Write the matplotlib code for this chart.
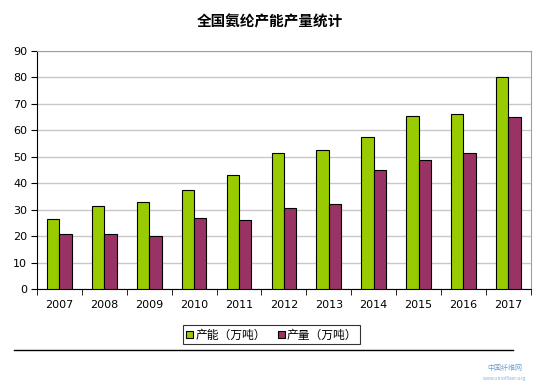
import matplotlib
matplotlib.use("Agg")
import matplotlib.pyplot as plt
import numpy as np

plt.rcParams['font.family'] = ['Noto Sans CJK SC', 'DejaVu Sans']

years = ["2007", "2008", "2009", "2010", "2011", "2012", "2013", "2014", "2015", "2016", "2017"]
capacity = [26.4, 31.3, 33.0, 37.3, 43.0, 51.3, 52.6, 57.6, 65.4, 66.2, 80.1]
output = [20.7, 20.9, 20.2, 26.7, 26.0, 30.8, 32.0, 44.9, 48.9, 51.3, 65.1]
series_names = ["产能（万吨）", "产量（万吨）"]
title = "全国氨纶产能产量统计"

fig = plt.figure(figsize=(5.4, 3.85), dpi=100)
ax = fig.add_axes([0.0685, 0.249, 0.9145, 0.6185])

x = np.arange(len(years))
w = 0.275
b1 = ax.bar(x - w / 2, capacity, w, color="#99CC00", edgecolor="black", linewidth=0.8, label=series_names[0], zorder=3)
b2 = ax.bar(x + w / 2, output, w, color="#993366", edgecolor="black", linewidth=0.8, label=series_names[1], zorder=3)

ax.set_xlim(-0.5, len(years) - 0.5)
ax.set_ylim(0, 90)
ax.set_yticks(np.arange(0, 91, 10))
ax.yaxis.grid(True, color="#c8c8c8", linewidth=1, zorder=0)
ax.set_xticks(x)
ax.set_xticklabels(years, fontsize=8, family="DejaVu Sans")
ax.tick_params(axis="x", length=0, pad=8)
ax.set_xticks(np.arange(-0.5, len(years), 1), minor=True)
ax.tick_params(axis="x", which="minor", length=4, direction="out", color="black")
ax.tick_params(axis="y", labelsize=8, length=4, direction="out", pad=3)
for lab in ax.get_yticklabels():
    lab.set_family("DejaVu Sans")
ax.spines["top"].set_color("#a0a0a0")
ax.spines["right"].set_color("#a0a0a0")
ax.spines["left"].set_color("black")
ax.spines["bottom"].set_color("black")

fig.text(0.5, 0.943, title, ha="center", va="center", fontsize=10.5, fontweight="bold")

leg = fig.legend(handles=[b1, b2], loc="center", bbox_to_anchor=(0.503, 0.130), ncol=2,
                 fontsize=8.5, frameon=True, fancybox=False, edgecolor="black",
                 handlelength=0.6, handleheight=0.6, handletextpad=0.2, columnspacing=1.0,
                 borderpad=0.25)
leg.get_frame().set_linewidth(0.8)

fig.add_artist(plt.Line2D([0.025, 0.95], [0.091, 0.091], color="black", linewidth=1, transform=fig.transFigure))
fig.text(0.935, 0.045, "中国纤维网", ha="center", va="center", fontsize=5, color="#6fa0cf")
fig.text(0.935, 0.018, "www.sinofiber.org", ha="center", va="center", fontsize=3.5, color="#8fb5dd", family="DejaVu Sans")

fig.savefig("out.png", dpi=100)
